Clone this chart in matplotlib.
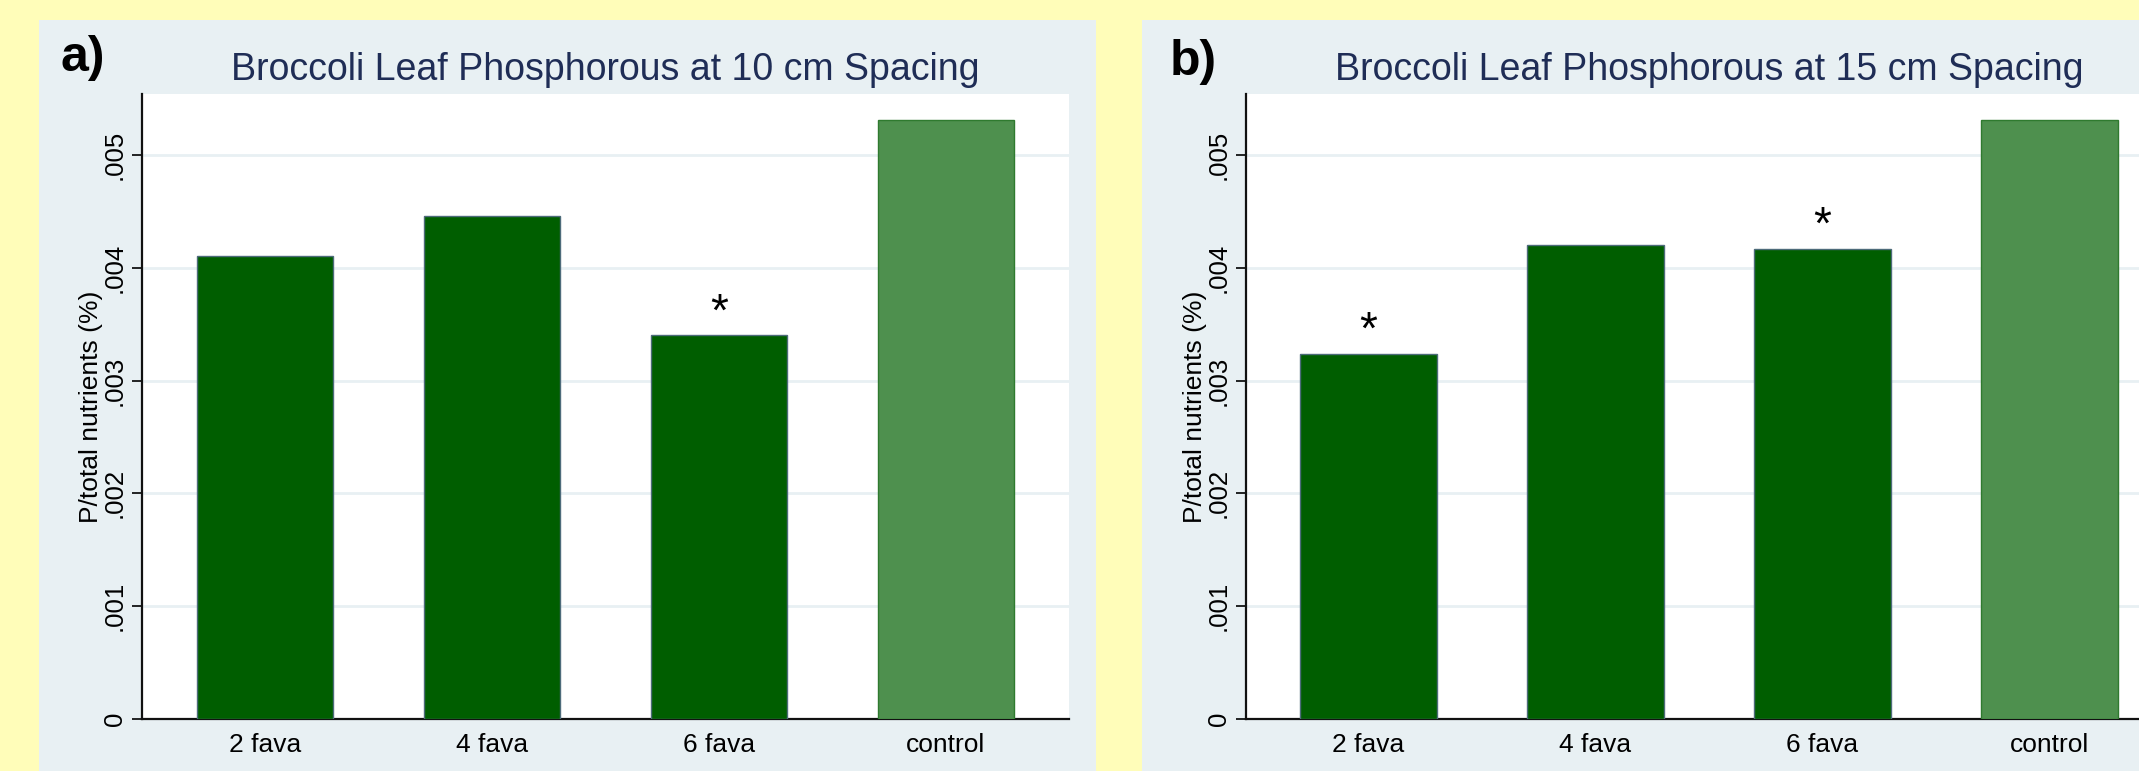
import matplotlib.pyplot as plt
from matplotlib.patches import Rectangle
from matplotlib.ticker import FixedLocator, FuncFormatter

categories = ["2 fava", "4 fava", "6 fava", "control"]
p_10cm = [0.00410, 0.004455, 0.00340, 0.00531]
p_15cm = [0.003235, 0.004205, 0.004168, 0.00531]
star_10cm = [False, False, True, False]
star_15cm = [True, False, True, False]
titles = ["Broccoli Leaf Phosphorous at 10 cm Spacing",
          "Broccoli Leaf Phosphorous at 15 cm Spacing"]
panel_tags = ["a)", "b)"]
yticks = [0, 0.001, 0.002, 0.003, 0.004, 0.005]

plt.rcParams["font.family"] = ["Liberation Sans", "DejaVu Sans"]

W, H = 2139, 771
fig = plt.figure(figsize=(W / 100, H / 100), dpi=100, facecolor="#fffdb9")

panel_bg = "#e8f0f3"
dark = "#005e00"
light = "#4e904e"


def fx(px):
    return px / W


def fy(py):
    return 1 - py / H


def tick_fmt(v, pos):
    if v == 0:
        return "0"
    return ("%.3f" % v).lstrip("0")


def panel(bg_left, ax_left, tag_x, tag_base, vals, stars, title, tag):
    fig.patches.append(Rectangle((fx(bg_left), 0), fx(1057), fy(20),
                                 transform=fig.transFigure, facecolor=panel_bg,
                                 edgecolor="none", zorder=-5))
    ax = fig.add_axes([fx(ax_left), fy(718.9), fx(926.1), fy(94) - fy(718.9)])
    ax.set_facecolor("white")
    x = range(len(categories))
    colors = [dark, dark, dark, light]
    edges = ["#4d6b7a", "#4d6b7a", "#4d6b7a", "#2f7a2f"]
    ax.bar(x, vals, width=0.6, color=colors, edgecolor=edges, linewidth=1.0, zorder=3)
    for i, (v, s) in enumerate(zip(vals, stars)):
        if s:
            ax.text(i, v + 0.00009, "*", ha="center", va="baseline",
                    fontsize=33, color="black", zorder=4)
    ax.set_xlim(-0.54, 3.54)
    ax.set_ylim(0, 0.00554)
    ax.yaxis.set_major_locator(FixedLocator(yticks))
    ax.yaxis.set_major_formatter(FuncFormatter(tick_fmt))
    ax.set_xticks(list(x))
    ax.set_xticklabels(categories)
    ax.tick_params(axis="x", length=0, pad=10, labelsize=19)
    ax.tick_params(axis="y", length=7, width=1.2, pad=4, labelsize=18.5,
                   labelrotation=90)
    for lab in ax.get_yticklabels():
        lab.set_va("center")
    ax.grid(axis="y", color=panel_bg, linewidth=2, zorder=1)
    ax.set_axisbelow(True)
    for side in ["top", "right"]:
        ax.spines[side].set_visible(False)
    for side in ["left", "bottom"]:
        ax.spines[side].set_linewidth(1.6)
        ax.spines[side].set_color("#111111")
    ax.set_ylabel("P/total nutrients (%)", fontsize=19, labelpad=0)
    cx = ax_left + 926.1 / 2
    fig.text(fx(cx), fy(80), title, ha="center", va="baseline",
             fontsize=27, color="#1f2d56")
    fig.text(fx(tag_x), fy(tag_base), tag, ha="left", va="baseline",
             fontsize=36, fontweight="bold", color="black")
    return ax


panel(39, 142.4, 60, 71, p_10cm, star_10cm, titles[0], panel_tags[0])
panel(1141.7, 1246, 1170, 75, p_15cm, star_15cm, titles[1], panel_tags[1])

fig.savefig("out.png", dpi=100, facecolor=fig.get_facecolor())
